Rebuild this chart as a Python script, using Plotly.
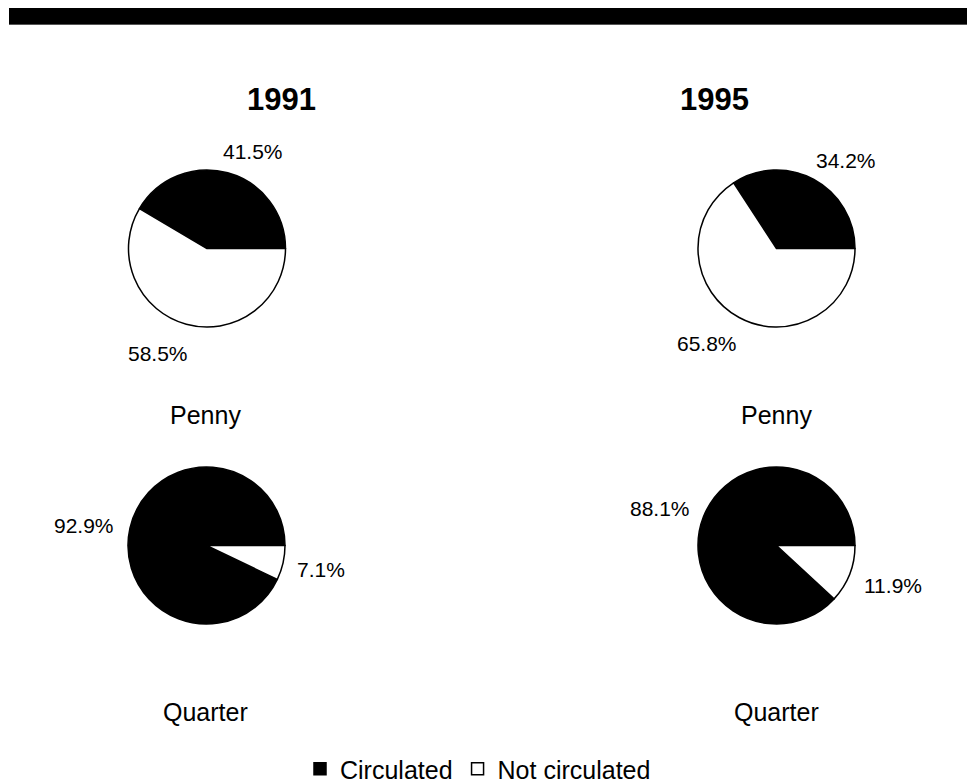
import plotly.graph_objects as go

# page body has an 8px margin; figure coordinates below are page pixels
OFF = 8
FW, FH = 975, 784

categories = ["Circulated", "Not circulated"]
years = ["1991", "1995"]
coins = ["Penny", "Quarter"]
penny_1991 = [41.5, 58.5]
penny_1995 = [34.2, 65.8]
quarter_1991 = [92.9, 7.1]
quarter_1995 = [88.1, 11.9]
colors = ["#000000", "#ffffff"]

FONT = "Arial, 'Liberation Sans', sans-serif"

def PX(x):
    return (x - OFF) / FW

def PY(y):
    return 1 - (y - OFF) / FH

def px_dom(cx, cy, r):
    return dict(x=[PX(cx - r), PX(cx + r)], y=[PY(cy + r), PY(cy - r)])

R = 78.5
pies = [
    (penny_1991, 207, 248.5, [(253, 151), (158, 353)]),
    (penny_1995, 776.5, 248.5, [(846, 160), (707, 343)]),
    (quarter_1991, 206.5, 545.5, [(84, 525), (321, 569)]),
    (quarter_1995, 776.5, 545.5, [(660, 508), (893, 585)]),
]

fig = go.Figure()
annotations = []
for i, (vals, cx, cy, lab_pos) in enumerate(pies):
    # first slice runs counterclockwise from 3 o'clock
    rot = 90 - 360 * vals[0] / sum(vals)
    fig.add_trace(go.Pie(
        labels=categories, values=vals, sort=False,
        direction="counterclockwise", rotation=rot,
        marker=dict(colors=colors, line=dict(color="#000000", width=1.5)),
        textinfo="none", hoverinfo="label+value",
        domain=px_dom(cx, cy, R), showlegend=(i == 0),
    ))
    for v, (lx, ly) in zip(vals, lab_pos):
        annotations.append(dict(
            x=PX(lx), y=PY(ly), xref="paper", yref="paper",
            text=f"{v:.1f}%", showarrow=False, xanchor="center", yanchor="middle",
            font=dict(family=FONT, size=21, color="#000"),
        ))

for yr, x in zip(years, [281, 714]):
    annotations.append(dict(
        x=PX(x), y=PY(100), xref="paper", yref="paper", text=f"<b>{yr}</b>",
        showarrow=False, xanchor="center", yanchor="middle",
        font=dict(family=FONT, size=31, color="#000"),
    ))

for coin, y in zip(coins, [415, 712]):
    for x in [205, 776]:
        annotations.append(dict(
            x=PX(x), y=PY(y), xref="paper", yref="paper", text=coin,
            showarrow=False, xanchor="center", yanchor="middle",
            font=dict(family=FONT, size=25, color="#000"),
        ))

fig.update_layout(
    width=FW, height=FH,
    margin=dict(l=0, r=0, t=0, b=0),
    paper_bgcolor="white", plot_bgcolor="white",
    font=dict(family=FONT, color="#000"),
    annotations=annotations,
    legend=dict(orientation="h", x=PX(300), y=PY(769), xanchor="left", yanchor="middle",
                font=dict(family=FONT, size=25, color="#000"), itemwidth=30,
                bgcolor="rgba(0,0,0,0)"),
    shapes=[
        dict(type="rect", xref="paper", yref="paper", x0=PX(9), x1=PX(973),
             y0=PY(24), y1=PY(6), fillcolor="#000", line=dict(width=0)),
        dict(type="line", xref="paper", yref="paper", x0=PX(9), x1=PX(973),
             y0=PY(24.5), y1=PY(24.5), line=dict(color="#555", width=1)),
    ],
)

fig.write_html("out.html")
